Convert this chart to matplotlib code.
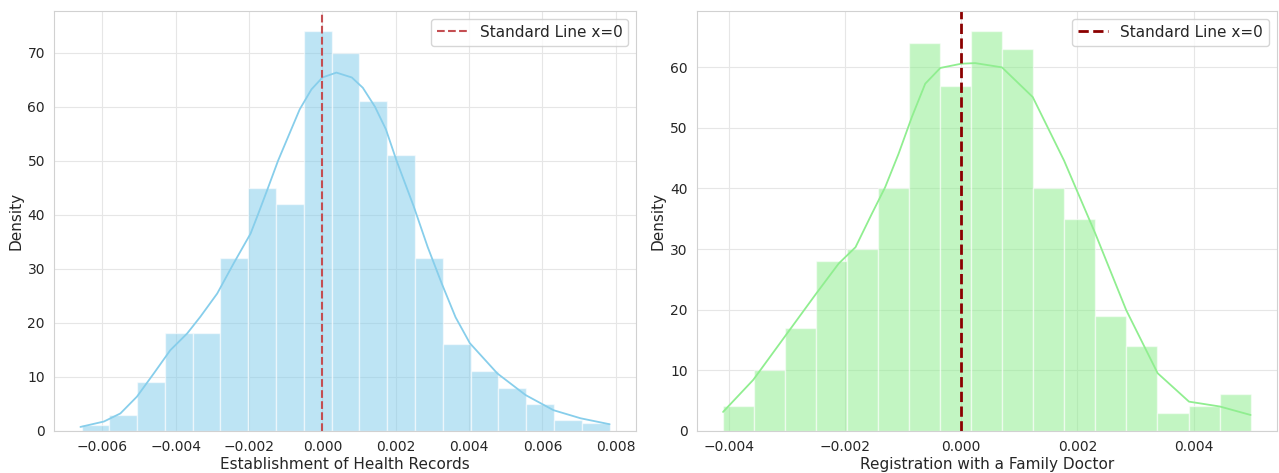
import numpy as np
import seaborn as sns
from matplotlib import pyplot as plt

sns.set_style("whitegrid", {'grid.color': '.9', 'axes.edgecolor': '.82'})
plt.rcParams['font.family'] = ['DejaVu Sans']

# left panel: Establishment of Health Records
left_lo, left_hi = -0.00657, 0.00783
left_counts = [1, 3, 9, 18, 18, 32, 45, 42, 74, 70, 61, 51, 32, 16, 11, 8, 5, 2, 1.5]
left_kde_x = [-6.60, -5.96, -5.51, -5.06, -4.60, -4.15, -3.69, -3.33, -2.87, -2.42,
              -1.96, -1.76, -1.51, -1.21, -0.90, -0.62, -0.30, 0.00, 0.38, 0.80,
              1.10, 1.43, 1.73, 2.02, 2.49, 2.87, 3.25, 3.63, 4.02, 4.77, 5.54,
              6.30, 7.04, 7.83]
left_kde_y = [0.7, 1.7, 3.2, 6.3, 10.6, 14.9, 18.0, 21.1, 25.4, 31.0,
              36.5, 40.0, 44.5, 50.0, 55.0, 59.5, 63.2, 65.4, 66.3, 65.4,
              63.5, 60.0, 55.8, 50.0, 41.5, 34.0, 27.3, 21.0, 16.2, 10.6, 6.6,
              3.8, 2.3, 1.2]

# right panel: Registration with a Family Doctor
right_lo, right_hi = -0.00410, 0.00498
right_counts = [4, 10, 17, 28, 30, 40, 64, 57, 66, 63, 40, 35, 19, 14, 3, 4, 6]
right_kde_x = [-4.10, -3.58, -3.04, -2.50, -2.11, -1.82, -1.54, -1.31, -1.08, -0.85,
               -0.62, -0.36, 0.00, 0.24, 0.70, 1.23, 1.77, 2.31, 2.84, 3.38,
               3.92, 4.45, 4.98]
right_kde_y = [3.1, 8.4, 15.5, 22.6, 27.6, 30.3, 35.8, 40.2, 45.7, 51.8,
               57.3, 59.9, 60.6, 60.7, 60.0, 55.1, 44.6, 32.5, 19.9, 9.5,
               4.8, 4.0, 2.6]


def draw_panel(ax, lo, hi, counts, kde_x, kde_y, color, vcolor, vlw, xlabel):
	edges = np.linspace(lo, hi, len(counts) + 1)
	ax.bar(edges[:-1], counts, width=np.diff(edges), align='edge',
	       color=color, alpha=0.55, edgecolor='white', linewidth=1)
	ax.plot(np.array(kde_x) * 1e-3, kde_y, color=color, linewidth=1.3)
	ax.axvline(0, color=vcolor, linestyle='--', linewidth=vlw, label='Standard Line x=0')
	ax.set_xlabel(xlabel, fontsize=11, labelpad=2)
	ax.set_ylabel('Density', fontsize=11, labelpad=3)
	ax.tick_params(labelsize=10, pad=3)
	ax.legend(loc='upper right', fontsize=11)


fig = plt.figure(figsize=(12.79, 4.73), dpi=100)
ax1 = fig.add_axes([0.0422, 0.0894, 0.4551, 0.8873])
ax2 = fig.add_axes([0.5447, 0.0894, 0.4537, 0.8873])

draw_panel(ax1, left_lo, left_hi, left_counts, left_kde_x, left_kde_y,
           'skyblue', '#c44e52', 1.5, 'Establishment of Health Records')
draw_panel(ax2, right_lo, right_hi, right_counts, right_kde_x, right_kde_y,
           'lightgreen', '#8b0000', 2, 'Registration with a Family Doctor')

fig.savefig('out.png', dpi=100)
